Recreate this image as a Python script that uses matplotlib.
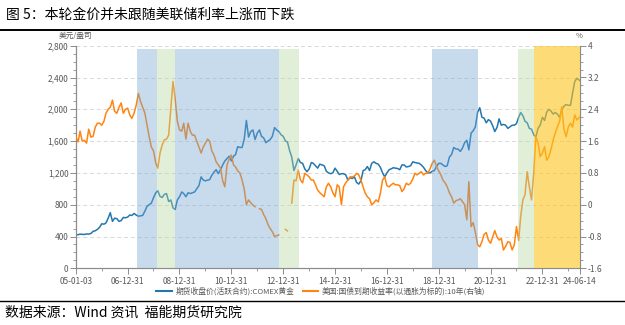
import numpy as np
import pandas as pd
import matplotlib
matplotlib.use('Agg')
import matplotlib.pyplot as plt
import matplotlib.dates as mdates
from matplotlib.lines import Line2D
from matplotlib.ticker import FuncFormatter, MultipleLocator, FixedLocator

plt.rcParams['font.family'] = ['Noto Sans CJK SC', 'DejaVu Sans']
plt.rcParams['axes.unicode_minus'] = False

# ---------------- data (monthly) ----------------
title = '图 5：本轮金价并未跟随美联储利率上涨而下跌'
source = '数据来源：Wind 资讯  福能期货研究院'
gold_label = '期货收盘价(活跃合约):COMEX黄金'
tips_label = '美国:国债到期收益率(以通胀为标的):10年(右轴)'
left_unit = '美元/盎司'
right_unit = '%'

start_date = '2005-01-03'
end_date = '2024-06-14'

gold = [
    424, 422, 430, 428, 425, 432, 430, 438, 465, 472, 490, 515,        # 2005
    560, 555, 570, 630, 700, 590, 630, 625, 590, 600, 640, 635,        # 2006
    645, 670, 665, 690, 670, 655, 660, 665, 720, 780, 800, 820,        # 2007
    890, 950, 975, 905, 890, 930, 940, 840, 860, 760, 740, 860,        # 2008
    900, 960, 940, 900, 950, 940, 950, 960, 1000, 1040, 1150, 1110,    # 2009
    1100, 1110, 1115, 1170, 1210, 1240, 1190, 1240, 1300, 1350, 1380, 1410,  # 2010
    1350, 1410, 1430, 1530, 1520, 1520, 1620, 1860, 1650, 1720, 1740, 1620,  # 2011
    1700, 1740, 1660, 1640, 1580, 1600, 1620, 1660, 1770, 1740, 1720, 1680,  # 2012
    1660, 1600, 1590, 1480, 1400, 1230, 1300, 1380, 1330, 1320, 1250, 1215,  # 2013
    1250, 1330, 1320, 1290, 1260, 1310, 1300, 1290, 1220, 1200, 1190, 1200,  # 2014
    1260, 1220, 1180, 1190, 1190, 1175, 1110, 1140, 1130, 1150, 1080, 1060,  # 2015
    1100, 1230, 1240, 1280, 1230, 1320, 1340, 1320, 1310, 1270, 1200, 1150,  # 2016
    1200, 1240, 1250, 1265, 1260, 1255, 1240, 1300, 1300, 1275, 1280, 1290,  # 2017
    1340, 1330, 1325, 1320, 1300, 1270, 1230, 1200, 1200, 1220, 1230, 1280,  # 2018
    1320, 1320, 1300, 1280, 1290, 1400, 1430, 1520, 1500, 1500, 1470, 1510,  # 2019
    1580, 1610, 1490, 1700, 1730, 1780, 1960, 2020, 1900, 1890, 1830, 1870,  # 2020
    1850, 1790, 1720, 1770, 1880, 1800, 1810, 1800, 1760, 1780, 1800, 1800,  # 2021
    1820, 1900, 1960, 1920, 1850, 1830, 1760, 1750, 1680, 1650, 1760, 1800,  # 2022
    1900, 1860, 1960, 2000, 1980, 1940, 1960, 1940, 1900, 1990, 2040, 2060,  # 2023
    2050, 2050, 2200, 2350, 2390, 2360,                                      # 2024
]

nan = np.nan
tips = [
    1.70, 1.58, 1.85, 1.60, 1.62, 1.55, 1.90, 1.70, 1.72, 1.95, 2.05, 2.05,   # 2005
    2.00, 2.10, 2.30, 2.40, 2.45, 2.63, 2.35, 2.30, 2.45, 2.56, 2.30, 2.40,   # 2006
    2.43, 2.25, 2.17, 2.30, 2.50, 2.80, 2.60, 2.45, 2.30, 2.00, 1.70, 1.45,   # 2007
    1.35, 1.05, 0.92, 1.30, 1.50, 1.63, 1.65, 1.75, 2.45, 3.10, 2.65, 2.10,   # 2008
    1.88, 1.85, 2.05, 1.65, 2.05, 1.85, 1.75, 1.75, 1.60, 1.45, 1.30, 1.45,   # 2009
    1.55, 1.65, 1.60, 1.35, 1.25, 1.08, 1.00, 0.92, 0.60, 0.45, 1.00, 1.15,   # 2010
    1.25, 1.00, 0.95, 0.85, 0.80, 0.62, 0.40, 0.00, 0.12, 0.05, -0.01, -0.05, # 2011
    nan, -0.10, -0.12, -0.25, -0.35, -0.50, -0.60, -0.68, -0.80, -0.78, -0.76, nan,  # 2012
    nan, -0.62, -0.66, nan, 0.04, 0.62, 0.60, 0.87, 0.62, 0.55, 0.79, 0.75,   # 2013
    0.70, 0.62, 0.62, 0.50, 0.37, 0.30, 0.25, 0.20, 0.45, 0.54, 0.45, 0.30,   # 2014
    0.20, 0.50, 0.45, 0.00, 0.45, 0.55, 0.62, 0.70, 0.70, 0.72, 0.79, 0.75,   # 2015
    0.62, 0.45, 0.29, 0.20, 0.15, 0.00, 0.05, 0.12, 0.07, 0.29, 0.62, 0.70,   # 2016
    0.48, 0.45, 0.50, 0.54, 0.50, 0.50, 0.48, 0.33, 0.40, 0.54, 0.50, 0.54,   # 2017
    0.65, 0.79, 0.75, 0.79, 0.83, 0.75, 0.79, 0.79, 0.90, 1.04, 1.12, 0.96,   # 2018
    0.85, 0.75, 0.62, 0.55, 0.45, 0.30, 0.20, 0.04, 0.10, 0.12, 0.15, 0.08,   # 2019
    0.00, -0.38, 0.58, -0.55, -0.45, -0.70, -1.00, -1.06, -0.93, -0.75, -0.70, -0.89,  # 2020
    -0.97, -0.80, -0.65, -0.81, -0.89, -0.85, -1.14, -1.05, -0.93, -0.95, -1.14, -1.01,  # 2021
    -0.55, -0.90, -0.30, 0.12, 0.25, 0.83, 0.45, 0.12, 0.80, 1.71, 1.55, 1.21,  # 2022
    1.30, 1.46, 1.12, 1.20, 1.38, 1.62, 1.80, 1.96, 2.10, 2.46, 1.90, 1.71,   # 2023
    1.95, 2.05, 1.95, 2.26, 2.13, 2.21,                                       # 2024
]

# shaded periods: (start, end, kind)
span_starts = ['2007-05-08', '2008-02-17', '2008-10-27', '2012-11-06', '2018-10-04', '2022-01-19', '2022-09-02']
span_ends   = ['2008-02-17', '2008-10-27', '2012-11-06', '2013-08-07', '2020-07-08', '2022-09-02', '2024-06-14']
span_kinds  = ['blue', 'green', 'blue', 'green', 'blue', 'green', 'yellow']

major_dates = ['2005-01-03', '2006-12-31', '2008-12-31', '2010-12-31', '2012-12-31', '2014-12-31',
               '2016-12-31', '2018-12-31', '2020-12-31', '2022-12-31', '2024-06-14']
minor_dates = ['2005-12-31', '2007-12-31', '2009-12-31', '2011-12-31', '2013-12-31', '2015-12-31',
               '2017-12-31', '2019-12-31', '2021-12-31', '2023-12-31']

# ---------------- figure ----------------
dates = list(pd.date_range('2005-01-01', '2024-06-01', freq='MS'))
dates[0] = pd.Timestamp(start_date)
dates[-1] = pd.Timestamp(end_date)

fig = plt.figure(figsize=(6.25, 3.25), dpi=100)
ax = fig.add_axes([76 / 625, 1 - 268.3 / 325, (580 - 76) / 625, (268.3 - 45.7) / 325])
ax2 = ax.twinx()

blue_c = '#2377b0'
orange_c = '#ff8410'
ax.plot(dates, gold, color=blue_c, lw=1.1, zorder=3)
ax2.plot(dates, tips, color=orange_c, lw=1.1, zorder=3)

span_style = {'blue': ('#75a7d4', 0.4, 0.985), 'green': ('#b6d7a2', 0.4, 0.985), 'yellow': ('#fdc51e', 0.6, 1.0)}
for s, e, k in zip(span_starts, span_ends, span_kinds):
    c, a, top = span_style[k]
    ax2.axvspan(pd.Timestamp(s), pd.Timestamp(e), ymin=0, ymax=top, color=c, alpha=a, lw=0, zorder=5)

ax.set_xlim(pd.Timestamp(start_date), pd.Timestamp(end_date))
ax.set_ylim(0, 2800)
ax2.set_ylim(-1.6, 4.0)

ax.yaxis.set_major_locator(MultipleLocator(400))
ax.yaxis.set_minor_locator(MultipleLocator(100))
ax.yaxis.set_major_formatter(FuncFormatter(lambda v, p: f'{int(round(v)):,}'))
ax2.yaxis.set_major_locator(FixedLocator(np.arange(-1.6, 4.01, 0.8)))
ax2.yaxis.set_minor_locator(FixedLocator(np.arange(-1.6, 4.01, 0.2)))
ax2.yaxis.set_major_formatter(FuncFormatter(lambda v, p: f'{round(v, 1):g}'))

ax.xaxis.set_major_locator(FixedLocator([mdates.date2num(pd.Timestamp(d)) for d in major_dates]))
ax.xaxis.set_minor_locator(FixedLocator([mdates.date2num(pd.Timestamp(d)) for d in minor_dates]))
ax.xaxis.set_major_formatter(mdates.DateFormatter('%y-%m-%d'))

ax.grid(axis='y', which='major', color='#d9d9d9', linestyle=(0, (4, 3)), lw=0.7)
ax.set_axisbelow(True)

spine_c = '#8c8c8c'
text_c = '#595959'
for a_ in (ax, ax2):
    a_.spines['top'].set_visible(False)
    for side in ('left', 'right', 'bottom'):
        a_.spines[side].set_color(spine_c)
        a_.spines[side].set_linewidth(0.8)
ax.tick_params(axis='both', which='major', labelsize=6, colors=spine_c, labelcolor=text_c, length=4, width=0.7, pad=1.5)
ax.tick_params(axis='both', which='minor', colors=spine_c, length=2.5, width=0.6)
ax2.tick_params(axis='y', which='major', labelsize=6, colors=spine_c, labelcolor=text_c, length=4, width=0.7, pad=1.5)
ax2.tick_params(axis='y', which='minor', colors=spine_c, length=2.5, width=0.6)
ax.tick_params(axis='x', which='major', pad=2)

# texts
fig.text(6 / 625, 1 - 15 / 325, title, fontsize=10, va='center', ha='left', color='black')
fig.add_artist(Line2D([0, 1], [1 - 30 / 325] * 2, color='black', lw=1.4))
fig.add_artist(Line2D([0, 1], [1 - 300.5 / 325] * 2, color='black', lw=1.0))
fig.text(5 / 625, 1 - 313 / 325, source, fontsize=10, va='center', ha='left', color='black')
fig.text(75 / 625, 1 - 36 / 325, left_unit, fontsize=5.5, va='center', ha='center', color=text_c)
fig.text(579 / 625, 1 - 36 / 325, right_unit, fontsize=5.5, va='center', ha='center', color=text_c)

handles = [Line2D([], [], color=blue_c, lw=1.5), Line2D([], [], color=orange_c, lw=1.5)]
fig.legend(handles, [gold_label, tips_label], loc='center', ncol=2,
           bbox_to_anchor=(321 / 625, 1 - 291.5 / 325), frameon=False, fontsize=5.6,
           handlelength=2.0, handletextpad=0.5, columnspacing=1.0, labelcolor=text_c)

fig.savefig('out.png', dpi=100)
